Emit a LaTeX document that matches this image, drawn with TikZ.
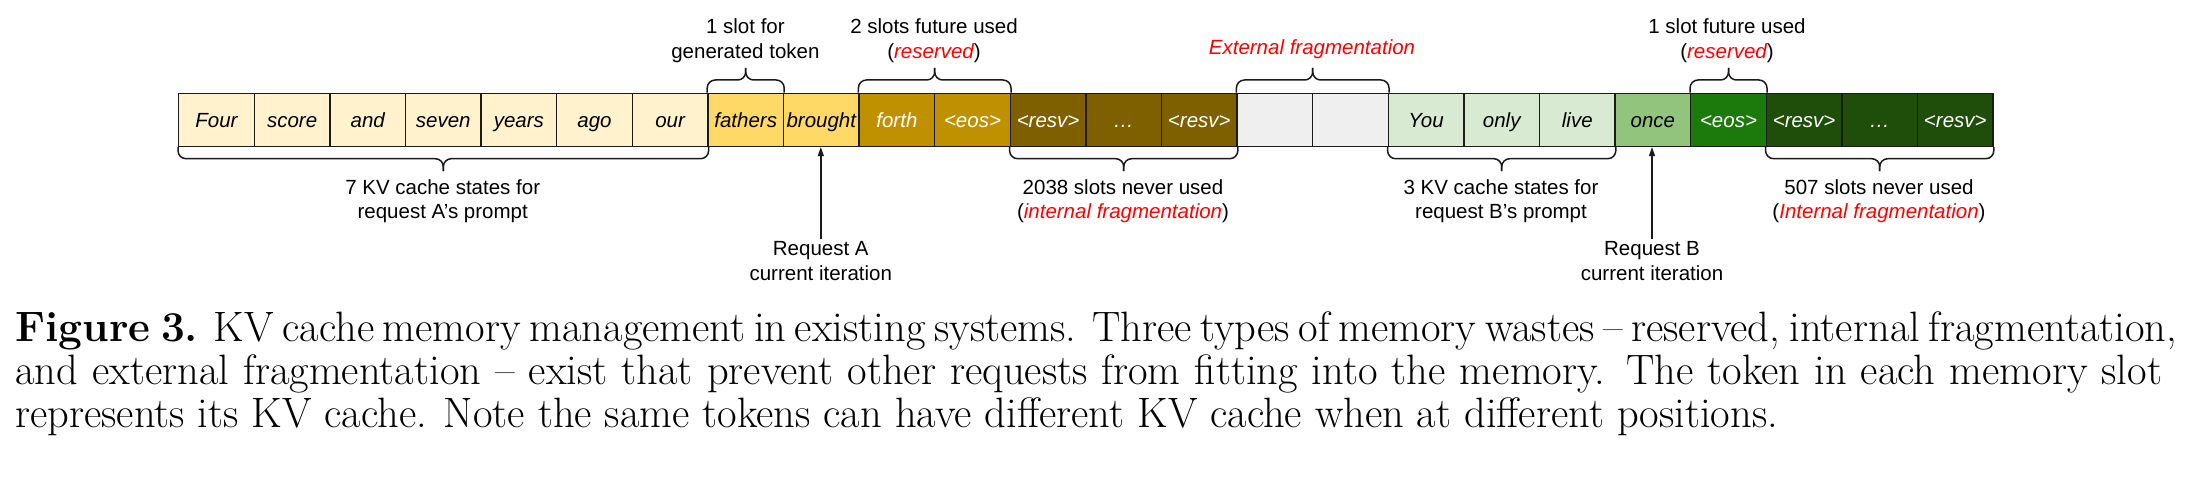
\documentclass[tikz,border=0pt]{standalone}
\usepackage{fontspec}
\newfontfamily\arialf{Liberation Sans}
\usetikzlibrary{calc,arrows.meta}
\definecolor{cA}{HTML}{FFF2CC}
\definecolor{cB}{HTML}{FFD966}
\definecolor{cC}{HTML}{BF9000}
\definecolor{cD}{HTML}{7F6000}
\definecolor{cE}{HTML}{EFEFEF}
\definecolor{cF}{HTML}{D9EAD3}
\definecolor{cG}{HTML}{93C47D}
\definecolor{cH}{HTML}{1C7A0C}
\definecolor{cI}{HTML}{1F4E0B}
\definecolor{redA}{HTML}{FF0000}
\definecolor{ln}{HTML}{1A1A1A}
\tikzset{
  slot/.style={draw=ln, line width=1.4pt, minimum width=75.6pt, minimum height=53pt,
    inner sep=0pt, anchor=north west, text height=18pt, text depth=3pt,
    font=\arialf\itshape\fontsize{20.5}{24}\selectfont},
  brc/.style={draw=ln, line width=1.5pt, rounded corners=8pt},
  lbl/.style={font=\arialf\fontsize{20.5}{24.5}\selectfont, align=center, inner sep=0pt, anchor=base},
  arr/.style={draw=ln, line width=1.4pt, -{Triangle[length=9pt,width=6pt]}},
}
\newcommand\TopBrace[2]{%
  \draw[brc] (#1.north west) |- ($(#1.north west)!0.5!(#2.north east)+(0,-12.7)$) -- ++(0,-12);
  \draw[brc] (#2.north east) |- ($(#1.north west)!0.5!(#2.north east)+(0,-12.7)$) -- ++(0,-12);}
\newcommand\BotBrace[2]{%
  \draw[brc] (#1.south west) |- ($(#1.south west)!0.5!(#2.south east)+(0,11.6)$) -- ++(0,12.5);
  \draw[brc] (#2.south east) |- ($(#1.south west)!0.5!(#2.south east)+(0,11.6)$) -- ++(0,12.5);}
\newcommand\RedIt[1]{\textcolor{redA}{\itshape #1}}
\begin{document}
\begin{tikzpicture}[x=1pt,y=-1pt]
\fill[white] (0,0) rectangle (2188,486);
\useasboundingbox (0,0) rectangle (2188,486);
\foreach \i/\t/\f/\tc in {1/Four/cA/black,2/score/cA/black,3/and/cA/black,4/seven/cA/black,5/years/cA/black,6/ago/cA/black,7/our/cA/black,8/fathers/cB/black,9/brought/cB/black,10/forth/cC/white,11/<eos>/cC/white,12/<resv>/cD/white,13/…/cD/white,14/<resv>/cD/white,15//cE/black,16//cE/black,17/You/cF/black,18/only/cF/black,19/live/cF/black,20/once/cG/black,21/<eos>/cH/white,22/<resv>/cI/white,23/…/cI/white,24/<resv>/cI/white}
  \node[slot, fill=\f, text=\tc] (c\i) at ({178+(\i-1)*75.6},92.7) {\t};
% top braces
\TopBrace{c8}{c8}
\TopBrace{c10}{c11}
\TopBrace{c15}{c16}
\TopBrace{c21}{c21}
% bottom braces
\BotBrace{c1}{c7}
\BotBrace{c12}{c14}
\BotBrace{c17}{c19}
\BotBrace{c22}{c24}
% top labels (base = last line)
\node[lbl] (t1) at (745.4,58.5) {1 slot for\\generated token};
\node[lbl] (t2) at (934,58.5) {2 slots future used\\(\RedIt{reserved})};
\node[lbl] (t3) at (1312,54.5) {\RedIt{External fragmentation}};
\node[lbl] (t4) at (1727,58.5) {1 slot future used\\(\RedIt{reserved})};
% bottom labels
\node[lbl] (b1) at (442.7,219) {7 KV cache states for\\request A’s prompt};
\node[lbl] (b2) at (1123,219) {2038 slots never used\\(\RedIt{internal fragmentation})};
\node[lbl] (b3) at (1501,219) {3 KV cache states for\\request B’s prompt};
\node[lbl] (b4) at (1879,219) {507 slots never used\\(\RedIt{Internal fragmentation})};
% request arrows
\node[lbl, inner sep=3pt] (rA) at (820.8,280.5) {Request A\\current iteration};
\node[lbl, inner sep=3pt] (rB) at (1652,280.5) {Request B\\current iteration};
\draw[arr] (rA.north) -- (rA.north |- c9.south);
\draw[arr] (rB.north) -- (rB.north |- c20.south);
% caption
\node[anchor=base west, inner sep=0pt, align=left, font=\fontsize{42.5}{43}\selectfont] (cap) at (15,427)
  {\makebox[2147pt][s]{\textbf{Figure 3.} KV cache memory management in existing systems. Three types of memory wastes – reserved, internal fragmentation,}\\
   \makebox[2147pt][s]{and external fragmentation – exist that prevent other requests from fitting into the memory. The token in each memory slot}\\
   represents its KV cache. Note the same tokens can have different KV cache when at different positions.};
\end{tikzpicture}
\end{document}
